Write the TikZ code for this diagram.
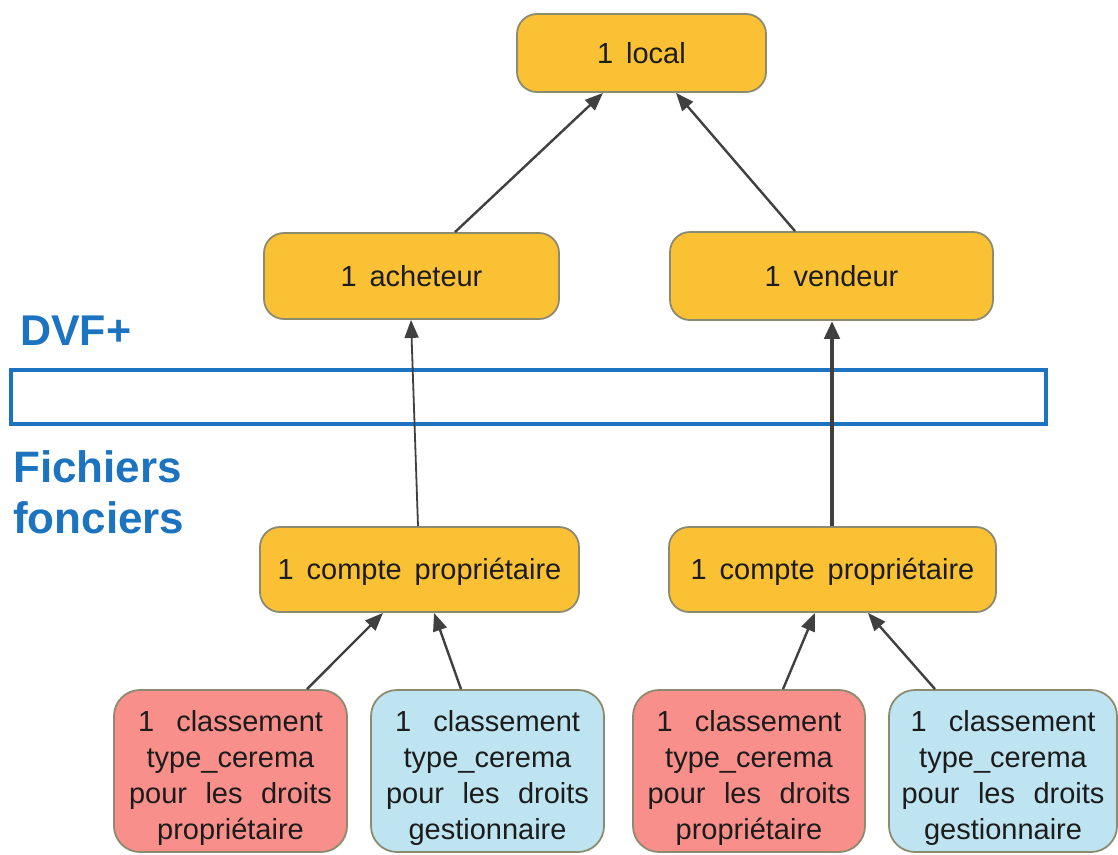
\documentclass[tikz,border=0pt]{standalone}
\usepackage{fontspec}
\setmainfont{Liberation Sans}[WordSpace=1.6]
\usetikzlibrary{arrows.meta}
\definecolor{boxyellow}{HTML}{FBC135}
\definecolor{boxred}{HTML}{F98F8A}
\definecolor{boxblue}{HTML}{BEE4F1}
\definecolor{boxedge}{HTML}{8C8B70}
\definecolor{inktext}{HTML}{1C1C1C}
\definecolor{arrowgray}{HTML}{404040}
\definecolor{layerblue}{HTML}{1C73BF}
\begin{document}
\begin{tikzpicture}[x=1pt,y=-1pt,
  entity/.style={draw=boxedge, line width=1.8pt, rounded corners=20pt,
    fill=boxyellow, text=inktext, inner sep=0pt, align=center,
    font=\fontsize{29}{36}\selectfont},
  classbox/.style={entity, rounded corners=26pt, minimum height=162pt},
  link/.style={draw=arrowgray, line width=2.4pt,
    -{Triangle[length=18pt,width=14pt]}},
  layer/.style={text=layerblue, inner sep=0pt, anchor=base west,
    font=\fontsize{44}{51}\selectfont\bfseries}]
\useasboundingbox (0,0) rectangle (1118,854);

% layer frame and its captions
\draw[layerblue, line width=4pt] (11,369.5) rectangle (1046,424);
\node[layer, font=\fontsize{43}{51}\selectfont\bfseries] (dvf) at (20,345) {DVF+};
\node[layer] (ff1) at (13,482) {Fichiers};
\node[layer] (ff2) at (13,533) {fonciers};

% main entities
\node[entity, minimum width=249pt, minimum height=78pt] (local) at (641.5,53) {1 local};
\node[entity, minimum width=295pt, minimum height=86pt] (acheteur) at (411.5,276) {1 acheteur};
\node[entity, minimum width=323pt, minimum height=88pt] (vendeur) at (831.5,276) {1 vendeur};
\node[entity, minimum width=319pt, minimum height=85pt] (compteA) at (419.5,569.5) {\rule{0pt}{26pt}1 compte propriétaire};
\node[entity, minimum width=327pt, minimum height=85pt] (compteB) at (832.5,569.5) {\rule{0pt}{26pt}1 compte propriétaire};

% classification boxes
\newcommand{\classtext}[1]{\rule{0pt}{35pt}\makebox[185pt]{1\hfill classement}\\type\_cerema\\\makebox[203pt]{pour\hfill les\hfill droits}\\#1}
\node[classbox, fill=boxred, minimum width=233pt] (propA) at (230.5,771) {\classtext{propriétaire}};
\node[classbox, fill=boxblue, minimum width=233pt] (gestA) at (487.5,771) {\classtext{gestionnaire}};
\node[classbox, fill=boxred, minimum width=232pt] (propB) at (749,771) {\classtext{propriétaire}};
\node[classbox, fill=boxblue, minimum width=228pt] (gestB) at (1003,771) {\classtext{gestionnaire}};

% connectors
\draw[link] ([xshift=43.5pt]acheteur.north) -- ([xshift=-38.5pt]local.south);
\draw[link] ([xshift=-36.5pt]vendeur.north) -- ([xshift=34.5pt]local.south);
\draw[link, line width=1.8pt] ([xshift=-1.5pt]compteA.north) -- ([xshift=-0.5pt]acheteur.south);
\draw[link, line width=4.5pt, -{Triangle[length=18pt,width=15pt]}] ([xshift=-0.5pt]compteB.north) -- ([xshift=0.5pt]vendeur.south);
\draw[link] ([xshift=76.5pt]propA.north) -- ([xshift=-36.5pt]compteA.south);
\draw[link] ([xshift=-26.5pt]gestA.north) -- ([xshift=14.5pt]compteA.south);
\draw[link] ([xshift=34pt]propB.north) -- ([xshift=-17.5pt]compteB.south);
\draw[link] ([xshift=-68pt]gestB.north) -- ([xshift=35.5pt]compteB.south);
\end{tikzpicture}
\end{document}
